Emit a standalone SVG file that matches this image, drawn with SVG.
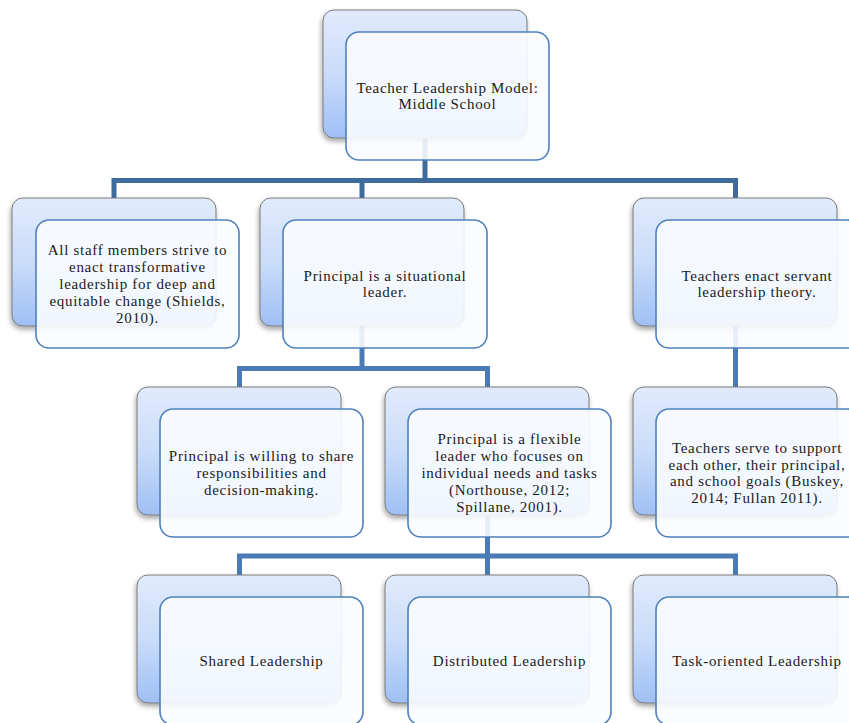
<svg xmlns="http://www.w3.org/2000/svg" width="849" height="723" viewBox="0 0 849 723">
<defs>
  <linearGradient id="bg" x1="0" y1="0" x2="0" y2="1">
    <stop offset="0" stop-color="#e1ebfc"/>
    <stop offset="0.5" stop-color="#cadcf9"/>
    <stop offset="1" stop-color="#9fbff5"/>
  </linearGradient>
  <filter id="sh" x="-10%" y="-10%" width="125%" height="130%">
    <feDropShadow dx="-1" dy="3" stdDeviation="2.5" flood-color="#000" flood-opacity="0.35"/>
  </filter>
</defs>
<style>
  .back { fill: url(#bg); stroke: #7a7a7a; stroke-width: 1; filter: url(#sh); }
  .front { fill: #fafcff; fill-opacity: 0.9; stroke: #4f81bd; stroke-width: 1.6; }
  .c1 { fill: none; stroke: #3f6a9c; stroke-width: 5; }
  .c2 { fill: none; stroke: #4a7bb7; stroke-width: 5; }
  text { font-family: "Liberation Serif", "Times New Roman", serif; font-size: 15px; letter-spacing: 0.7px; fill: #1a1a1a; text-anchor: middle; }
</style>
<rect width="849" height="723" fill="#ffffff"/>
<g id="connectors">
  <path class="c1" d="M425,138 V180.5 M114,198 V180.5 H735.5 V198 M362,180.5 V198"/>
  <path class="c2" d="M362,326 V368.5 M239.5,387 V368.5 H487.5 V387"/>
  <path class="c2" d="M735.5,326 V387"/>
  <path class="c2" d="M487.5,515 V556 M239.5,575 V556 H735.5 V575 M487.5,556 V575"/>
</g>
<g id="n-top">
  <rect class="back" x="323" y="10" width="204" height="128" rx="11"/>
  <rect class="front" x="346" y="32" width="203" height="128" rx="13"/>
  <text><tspan x="447.5" y="92.6">Teacher Leadership Model:</tspan><tspan x="447.5" y="109.4">Middle School</tspan></text>
</g>
<g id="n-transform">
  <rect class="back" x="12" y="198" width="204" height="128" rx="11"/>
  <rect class="front" x="36" y="220" width="203" height="128" rx="13"/>
  <text><tspan x="137.5" y="255.4">All staff members strive to</tspan><tspan x="137.5" y="272.2">enact transformative</tspan><tspan x="137.5" y="289">leadership for deep and</tspan><tspan x="137.5" y="305.8">equitable change (Shields,</tspan><tspan x="137.5" y="322.6">2010).</tspan></text>
</g>
<g id="n-situational">
  <rect class="back" x="260" y="198" width="204" height="128" rx="11"/>
  <rect class="front" x="283" y="220" width="204" height="128" rx="13"/>
  <text><tspan x="385" y="280.6">Principal is a situational</tspan><tspan x="385" y="297.4">leader.</tspan></text>
</g>
<g id="n-servant">
  <rect class="back" x="633" y="198" width="204" height="128" rx="11"/>
  <rect class="front" x="656" y="220" width="204" height="128" rx="13"/>
  <text><tspan x="757" y="280.6">Teachers enact servant</tspan><tspan x="757" y="297.4">leadership theory.</tspan></text>
</g>
<g id="n-share">
  <rect class="back" x="137" y="387" width="204" height="128" rx="11"/>
  <rect class="front" x="160" y="409" width="203" height="128" rx="13"/>
  <text><tspan x="261.5" y="461.2">Principal is willing to share</tspan><tspan x="261.5" y="478">responsibilities and</tspan><tspan x="261.5" y="494.8">decision-making.</tspan></text>
</g>
<g id="n-flexible">
  <rect class="back" x="385" y="387" width="204" height="128" rx="11"/>
  <rect class="front" x="408" y="409" width="203" height="128" rx="13"/>
  <text><tspan x="509.5" y="444.4">Principal is a flexible</tspan><tspan x="509.5" y="461.2">leader who focuses on</tspan><tspan x="509.5" y="478">individual needs and tasks</tspan><tspan x="509.5" y="494.8">(Northouse, 2012;</tspan><tspan x="509.5" y="511.6">Spillane, 2001).</tspan></text>
</g>
<g id="n-serve">
  <rect class="back" x="633" y="387" width="204" height="128" rx="11"/>
  <rect class="front" x="656" y="409" width="204" height="128" rx="13"/>
  <text><tspan x="757" y="452.8">Teachers serve to support</tspan><tspan x="757" y="469.6">each other, their principal,</tspan><tspan x="757" y="486.4">and school goals (Buskey,</tspan><tspan x="757" y="503.2">2014; Fullan 2011).</tspan></text>
</g>
<g id="n-shared">
  <rect class="back" x="137" y="575" width="204" height="128" rx="11"/>
  <rect class="front" x="160" y="597" width="203" height="128" rx="13"/>
  <text x="261.5" y="666">Shared Leadership</text>
</g>
<g id="n-distributed">
  <rect class="back" x="385" y="575" width="204" height="128" rx="11"/>
  <rect class="front" x="408" y="597" width="203" height="128" rx="13"/>
  <text x="509.5" y="666">Distributed Leadership</text>
</g>
<g id="n-task">
  <rect class="back" x="633" y="575" width="204" height="128" rx="11"/>
  <rect class="front" x="656" y="597" width="204" height="128" rx="13"/>
  <text x="757" y="666">Task-oriented Leadership</text>
</g>
</svg>
